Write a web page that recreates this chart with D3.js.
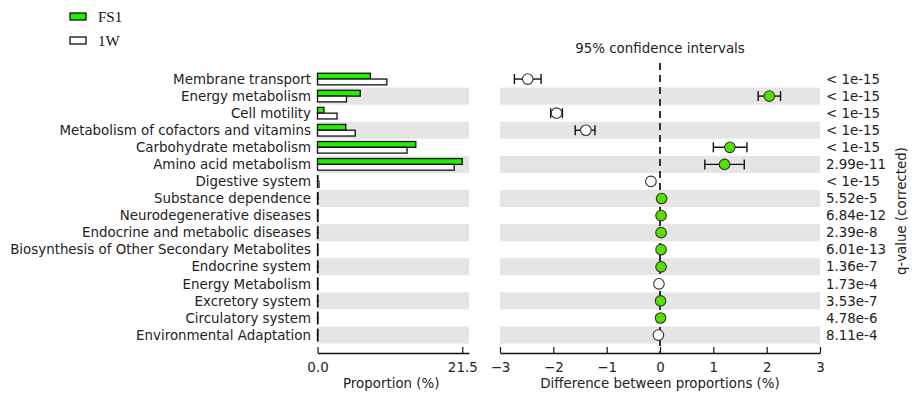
<!DOCTYPE html>
<html>
<head>
<meta charset="utf-8">
<script src="https://cdn.jsdelivr.net/npm/d3@7"></script>
<style>
  html, body { margin: 0; padding: 0; background: #fff; }
  svg { display: block; }
  text { font-family: "DejaVu Sans", sans-serif; fill: #222; }
  text.legend { font-family: "Liberation Serif", serif; fill: #111; }
</style>
</head>
<body>
<script>
// ---- data ----
const categories = [
  "Membrane transport", "Energy metabolism", "Cell motility",
  "Metabolism of cofactors and vitamins", "Carbohydrate metabolism",
  "Amino acid metabolism", "Digestive system", "Substance dependence",
  "Neurodegenerative diseases", "Endocrine and metabolic diseases",
  "Biosynthesis of Other Secondary Metabolites", "Endocrine system",
  "Energy Metabolism", "Excretory system", "Circulatory system",
  "Environmental Adaptation"
];
const groups = ["FS1", "1W"];
const propFS1 = [7.85, 6.35, 0.95, 4.2, 14.6, 21.5, 0.06, 0.09, 0.08, 0.08, 0.07, 0.08, 0.04, 0.06, 0.05, 0.03];
const prop1W  = [10.3, 4.3, 2.9, 5.6, 13.3, 20.3, 0.22, 0.06, 0.06, 0.06, 0.05, 0.06, 0.06, 0.05, 0.04, 0.06];
const diffVals = [-2.48, 2.05, -1.94, -1.39, 1.31, 1.21, -0.17, 0.03, 0.02, 0.02, 0.02, 0.02, -0.02, 0.01, 0.01, -0.03];
const ciLow    = [-2.73, 1.84, -2.05, -1.59, 1.00, 0.84, -0.19, 0.02, 0.01, 0.01, 0.01, 0.01, -0.03, 0.00, 0.00, -0.04];
const ciHigh   = [-2.23, 2.26, -1.83, -1.22, 1.63, 1.58, -0.15, 0.04, 0.03, 0.03, 0.03, 0.03, -0.01, 0.02, 0.02, -0.02];
const qValues  = ["< 1e-15", "< 1e-15", "< 1e-15", "< 1e-15", "< 1e-15", "2.99e-11", "< 1e-15", "5.52e-5",
                  "6.84e-12", "2.39e-8", "6.01e-13", "1.36e-7", "1.73e-4", "3.53e-7", "4.78e-6", "8.11e-4"];
const leftTicks = [0, 21.5];
const rightTicks = [-3, -2, -1, 0, 1, 2, 3];

// ---- layout ----
const W = 912, H = 396;
const FS = 13.4;
const GREEN_BAR = "#22ee00", GREEN_DOT = "#55e000", BAND = "#e5e5e5";
const svg = d3.select("body").append("svg").attr("width", W).attr("height", H);

const y = d3.scaleBand().domain(categories).range([70.5, 343.6]).padding(0);
const xL = d3.scaleLinear().domain([0, 22.5]).range([317.5, 469]);
const xR = d3.scaleLinear().domain([-3, 3]).range([500, 820]);
const axisY = 353;

// bands
categories.forEach((c, i) => {
  if (i % 2 === 1) {
    svg.append("rect").attr("x", xL(0)).attr("y", y(c)).attr("width", xL(22.5) - xL(0))
      .attr("height", y.bandwidth()).attr("fill", BAND);
    svg.append("rect").attr("x", xR(-3)).attr("y", y(c)).attr("width", xR(3) - xR(-3))
      .attr("height", y.bandwidth()).attr("fill", BAND);
  }
});

// category labels
svg.append("g").selectAll("text").data(categories).join("text")
  .attr("x", 311).attr("y", d => y(d) + y.bandwidth() / 2)
  .attr("dy", "0.35em").attr("text-anchor", "end").attr("font-size", FS)
  .text(d => d);

// bars
const bh = 5.8;
const barG = svg.append("g");
categories.forEach((c, i) => {
  const cy = y(c) + y.bandwidth() / 2;
  barG.append("rect").attr("x", xL(0)).attr("y", cy - bh).attr("width", Math.max(xL(propFS1[i]) - xL(0), 0.5))
    .attr("height", bh).attr("fill", GREEN_BAR).attr("stroke", "#111").attr("stroke-width", 1.3);
  barG.append("rect").attr("x", xL(0)).attr("y", cy).attr("width", Math.max(xL(prop1W[i]) - xL(0), 0.5))
    .attr("height", bh).attr("fill", "#fff").attr("stroke", "#111").attr("stroke-width", 1.3);
});

// left axis
const axL = svg.append("g").attr("transform", `translate(0,${axisY})`)
  .call(d3.axisBottom(xL).tickValues(leftTicks).tickFormat(d3.format(".1f")).tickSizeInner(-6).tickSizeOuter(0).tickPadding(9));
axL.select(".domain").attr("stroke", "#111").attr("stroke-width", 1.5);
axL.selectAll(".tick line").attr("stroke", "#111").attr("stroke-width", 1.2);
axL.selectAll(".tick text").attr("font-size", FS).attr("fill", "#222");

// right axis
const axR = svg.append("g").attr("transform", `translate(0,${axisY})`)
  .call(d3.axisBottom(xR).tickValues(rightTicks).tickFormat(d => d < 0 ? "\u2212" + Math.abs(d) : d).tickSizeInner(-6).tickSizeOuter(0).tickPadding(9));
axR.select(".domain").attr("stroke", "#111").attr("stroke-width", 1.5);
axR.selectAll(".tick line").attr("stroke", "#111").attr("stroke-width", 1.2);
axR.selectAll(".tick text").attr("font-size", FS).attr("fill", "#222");

// zero dashed line
svg.append("line").attr("x1", xR(0)).attr("x2", xR(0)).attr("y1", 63).attr("y2", axisY)
  .attr("stroke", "#333").attr("stroke-width", 2).attr("stroke-dasharray", "7,5");

// error bars & points
const eg = svg.append("g");
categories.forEach((c, i) => {
  const cy = y(c) + y.bandwidth() / 2;
  eg.append("line").attr("x1", xR(ciLow[i])).attr("x2", xR(ciHigh[i])).attr("y1", cy).attr("y2", cy)
    .attr("stroke", "#111").attr("stroke-width", 1.4);
  [ciLow[i], ciHigh[i]].forEach(v => {
    eg.append("line").attr("x1", xR(v)).attr("x2", xR(v)).attr("y1", cy - 5).attr("y2", cy + 5)
      .attr("stroke", "#111").attr("stroke-width", 1.4);
  });
  eg.append("circle").attr("cx", xR(diffVals[i])).attr("cy", cy).attr("r", 5.3)
    .attr("fill", diffVals[i] > 0 ? GREEN_DOT : "#fff").attr("stroke", "#333").attr("stroke-width", 1.1);
});

// q-values
svg.append("g").selectAll("text").data(qValues).join("text")
  .attr("x", 826).attr("y", (d, i) => y(categories[i]) + y.bandwidth() / 2)
  .attr("dy", "0.35em").attr("font-size", FS).text(d => d);

// titles
svg.append("text").attr("x", 660).attr("y", 48).attr("dy", "0.35em").attr("text-anchor", "middle")
  .attr("font-size", FS).text("95% confidence intervals");
svg.append("text").attr("x", (xL(0) + xL(22.5)) / 2 - 2).attr("y", 383).attr("dy", "0.35em").attr("text-anchor", "middle")
  .attr("font-size", FS).text("Proportion (%)");
svg.append("text").attr("x", 660).attr("y", 383).attr("dy", "0.35em").attr("text-anchor", "middle")
  .attr("font-size", FS).text("Difference between proportions (%)");
svg.append("text").attr("transform", "translate(901,211) rotate(-90)").attr("dy", "0.35em")
  .attr("text-anchor", "middle").attr("font-size", FS).text("q-value (corrected)");

// legend
const leg = svg.append("g");
groups.forEach((g, i) => {
  leg.append("rect").attr("x", 70).attr("y", 13 + i * 24).attr("width", 16).attr("height", 7)
    .attr("fill", i === 0 ? GREEN_BAR : "#fff").attr("stroke", "#111").attr("stroke-width", 1.3);
  leg.append("text").attr("class", "legend").attr("x", 98).attr("y", 17 + i * 24).attr("dy", "0.35em")
    .attr("font-size", 15).text(g);
});
</script>
</body>
</html>
